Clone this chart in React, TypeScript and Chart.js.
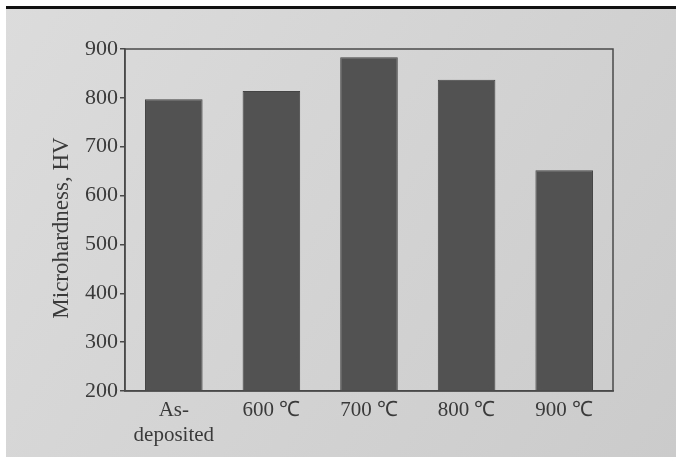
import React, { useEffect, useRef } from "react";
import { Chart, registerables } from "chart.js";

Chart.register(...registerables);

const categories: (string | string[])[] = [["As-", "deposited"], "600 ℃", "700 ℃", "800 ℃", "900 ℃"];
const hardness: number[] = [797, 814, 883, 837, 652];
const yTicks: number[] = [200, 300, 400, 500, 600, 700, 800, 900];
const yTitle = "Microhardness, HV";

const W = 676;
const H = 457;
const SERIF = "'Liberation Serif', 'Times New Roman', serif";

const bgPlugin = {
  id: "paperBg",
  beforeDraw(chart: any) {
    const ctx = chart.ctx;
    ctx.save();
    ctx.fillStyle = "#ffffff";
    ctx.fillRect(0, 0, W, H);
    const g = ctx.createLinearGradient(0, 0, W, H);
    g.addColorStop(0, "#dcdcdc");
    g.addColorStop(1, "#cbcbcb");
    ctx.fillStyle = g;
    ctx.fillRect(6, 8, W - 6, H - 8);
    ctx.fillStyle = "#111111";
    ctx.fillRect(6, 6, W - 6, 3);
    ctx.restore();
  },
  afterDatasetsDraw(chart: any) {
    const { ctx, chartArea } = chart;
    ctx.save();
    ctx.strokeStyle = "#4a4a4a";
    ctx.lineWidth = 1.5;
    ctx.strokeRect(chartArea.left, chartArea.top, chartArea.right - chartArea.left, chartArea.bottom - chartArea.top);
    ctx.translate(62, (chartArea.top + chartArea.bottom) / 2 + 8);
    ctx.rotate(-Math.PI / 2);
    ctx.fillStyle = "#3a3a3a";
    ctx.font = `23px ${SERIF}`;
    ctx.textAlign = "center";
    ctx.textBaseline = "middle";
    ctx.fillText(yTitle, 0, 0);
    ctx.restore();
  },
};

export default function App() {
  const ref = useRef<HTMLCanvasElement | null>(null);
  useEffect(() => {
    if (!ref.current) return;
    const chart = new Chart(ref.current, {
      type: "bar",
      data: {
        labels: categories,
        datasets: [
          {
            data: hardness,
            backgroundColor: "#525252",
            borderColor: "#444444",
            borderWidth: 1,
            barPercentage: 0.59,
            categoryPercentage: 1,
          },
        ],
      },
      options: {
        animation: false,
        responsive: false,
        devicePixelRatio: 1,
        layout: { padding: { left: 0, right: 63, top: 49, bottom: 0 } },
        plugins: { legend: { display: false }, tooltip: { enabled: false } },
        scales: {
          x: {
            grid: { display: false, drawTicks: false },
            border: { display: true, color: "#4a4a4a", width: 1.5 },
            ticks: {
              color: "#3a3a3a",
              padding: 7,
              maxRotation: 0,
              autoSkip: false,
              font: { family: SERIF, size: 21, lineHeight: 1.2 },
            },
            afterFit(scale: any) {
              scale.height = 66;
            },
          },
          y: {
            min: 200,
            max: 900,
            afterBuildTicks(scale: any) {
              scale.ticks = yTicks.map((v) => ({ value: v }));
            },
            grid: { display: true, drawOnChartArea: false, drawTicks: true, tickLength: 5, color: "#4a4a4a", lineWidth: 1.5 },
            border: { display: true, color: "#4a4a4a", width: 1.5 },
            ticks: {
              color: "#3a3a3a",
              padding: 2,
              font: { family: SERIF, size: 22 },
            },
            afterFit(scale: any) {
              scale.width = 125;
            },
          },
        },
      },
      plugins: [bgPlugin],
    });
    return () => chart.destroy();
  }, []);
  return (
    <div style={{ position: "fixed", left: 0, top: 0, width: W, height: H }}>
      <canvas ref={ref} width={W} height={H} style={{ width: W, height: H, display: "block" }} />
    </div>
  );
}
